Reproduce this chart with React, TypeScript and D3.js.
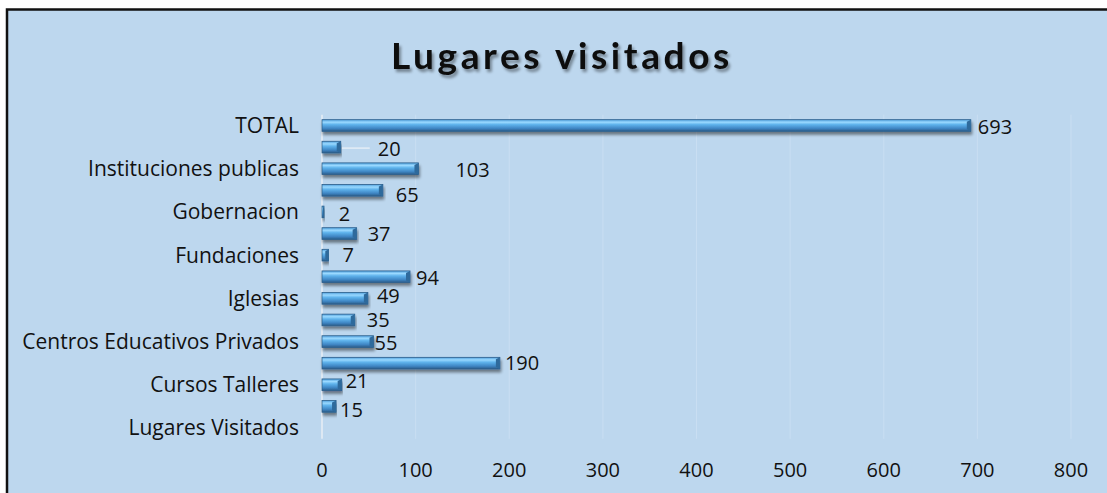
import React from "react";
import * as d3 from "d3";

// ---- data (top to bottom) ----
const categories: string[] = [
  "TOTAL", "", "Instituciones publicas", "", "Gobernacion", "", "Fundaciones", "",
  "Iglesias", "", "Centros Educativos Privados", "", "Cursos Talleres", "", "Lugares Visitados",
];
const values: (number | null)[] = [693, 20, 103, 65, 2, 37, 7, 94, 49, 35, 55, 190, 21, 15, null];
const xTicks: number[] = [0, 100, 200, 300, 400, 500, 600, 700, 800];
const title = "Lugares visitados";
// manual label nudges (as in the source chart)
const labelDx: number[] = [7, 37, 37, 13, 15, 11, 14, 6, 9, 12, 1, 5, 4, 4, 0];
const labelDy: number[] = [1, 2, 1, 5, 2, 0, 0, 1, -2, 0, 1, 0, -4, 4, 0];

const W = 1107;
const H = 493;
const M = { left: 322, right: 1071, top: 114.7, bottom: 438.8 };
const FONT = "'Open Sans', Lato, sans-serif";

export default function App() {
  const x = d3.scaleLinear().domain([0, 800]).range([M.left, M.right]);
  const y = d3
    .scaleBand<number>()
    .domain(d3.range(categories.length))
    .range([M.top, M.bottom])
    .paddingInner(0.46)
    .paddingOuter(0.23);
  const bh = y.bandwidth();
  const step = y.step();
  const center = (i: number) => M.top + step * (i + 0.5);

  return (
    <svg
      width={W}
      height={H}
      style={{ position: "absolute", left: 0, top: 0, display: "block" }}
      fontFamily={FONT}
    >
      <defs>
        <linearGradient id="barG" x1="0" y1="0" x2="0" y2="1">
          <stop offset="0" stopColor="#4f9fdc" />
          <stop offset="0.22" stopColor="#9ad9ff" />
          <stop offset="0.42" stopColor="#5fb3ec" />
          <stop offset="0.75" stopColor="#3f86c4" />
          <stop offset="1" stopColor="#2a5b88" />
        </linearGradient>
        <filter id="shadow" x="-5%" y="-50%" width="110%" height="250%">
          <feGaussianBlur in="SourceAlpha" stdDeviation="1.6" />
          <feOffset dx="1" dy="2.5" result="b" />
          <feComponentTransfer>
            <feFuncA type="linear" slope="0.45" />
          </feComponentTransfer>
          <feMerge>
            <feMergeNode />
            <feMergeNode in="SourceGraphic" />
          </feMerge>
        </filter>
        <filter id="tshadow" x="-5%" y="-20%" width="110%" height="160%">
          <feGaussianBlur in="SourceAlpha" stdDeviation="1.5" />
          <feOffset dx="2" dy="3" />
          <feComponentTransfer>
            <feFuncA type="linear" slope="0.4" />
          </feComponentTransfer>
          <feMerge>
            <feMergeNode />
            <feMergeNode in="SourceGraphic" />
          </feMerge>
        </filter>
      </defs>
      <rect x={0} y={0} width={W} height={H} fill="#ffffff" />
      <rect x={7} y={9.5} width={W + 20} height={H + 20} fill="#bdd7ee" stroke="#111" strokeWidth={2.5} />

      <text
        x={562}
        y={69}
        textAnchor="middle"
        fontFamily="Lato, sans-serif"
        fontSize={37}
        fontWeight={700}
        letterSpacing={3.6}
        fill="#0a0a0a"
        filter="url(#tshadow)"
      >
        {title}
      </text>

      {/* gridlines */}
      {xTicks.slice(1).map((t) => (
        <line key={t} x1={x(t)} x2={x(t)} y1={M.top} y2={M.bottom} stroke="#c9def2" strokeWidth={1} />
      ))}
      <line x1={x(0)} x2={x(0)} y1={M.top} y2={M.bottom} stroke="#dde8f3" strokeWidth={2} />

      {/* tick labels */}
      {xTicks.map((t) => (
        <text key={t} x={x(t)} y={477} textAnchor="middle" fontSize={20} fill="#111">
          {t}
        </text>
      ))}

      {/* category labels */}
      {categories.map((c, i) =>
        c ? (
          <text key={i} x={299} y={center(i) + 7.5} textAnchor="end" fontSize={21} fill="#111">
            {c}
          </text>
        ) : null
      )}

      {/* leader line for the moved label */}
      {values.map((v, i) =>
        v != null && i === 1 ? (
          <line
            key={"l" + i}
            x1={x(v) + 1}
            x2={x(v) + labelDx[i] - 8}
            y1={center(i) + 1}
            y2={center(i) + 1}
            stroke="#e4edf6"
            strokeWidth={1.5}
          />
        ) : null
      )}

      {/* bars */}
      {values.map((v, i) => {
        if (v == null) return null;
        const x0 = x(0);
        const x1 = x(v);
        const yy = y(i)!;
        const w = Math.max(x1 - x0, 2);
        const bev = Math.min(4, w / 2);
        return (
          <g key={"b" + i} filter="url(#shadow)">
            <rect x={x0} y={yy} width={w} height={bh} fill="url(#barG)" stroke="#2c5f8c" strokeWidth={0.8} />
            <polygon
              points={`${x0 + w - bev},${yy + 2} ${x0 + w},${yy} ${x0 + w},${yy + bh} ${x0 + w - bev},${yy + bh - 2}`}
              fill="#2f6a9c"
            />
          </g>
        );
      })}

      {/* value labels */}
      {values.map((v, i) =>
        v != null ? (
          <text
            key={"v" + i}
            x={x(v) + labelDx[i]}
            y={center(i) + labelDy[i] + 7}
            fontSize={20}
            fill="#111"
          >
            {v}
          </text>
        ) : null
      )}
    </svg>
  );
}
